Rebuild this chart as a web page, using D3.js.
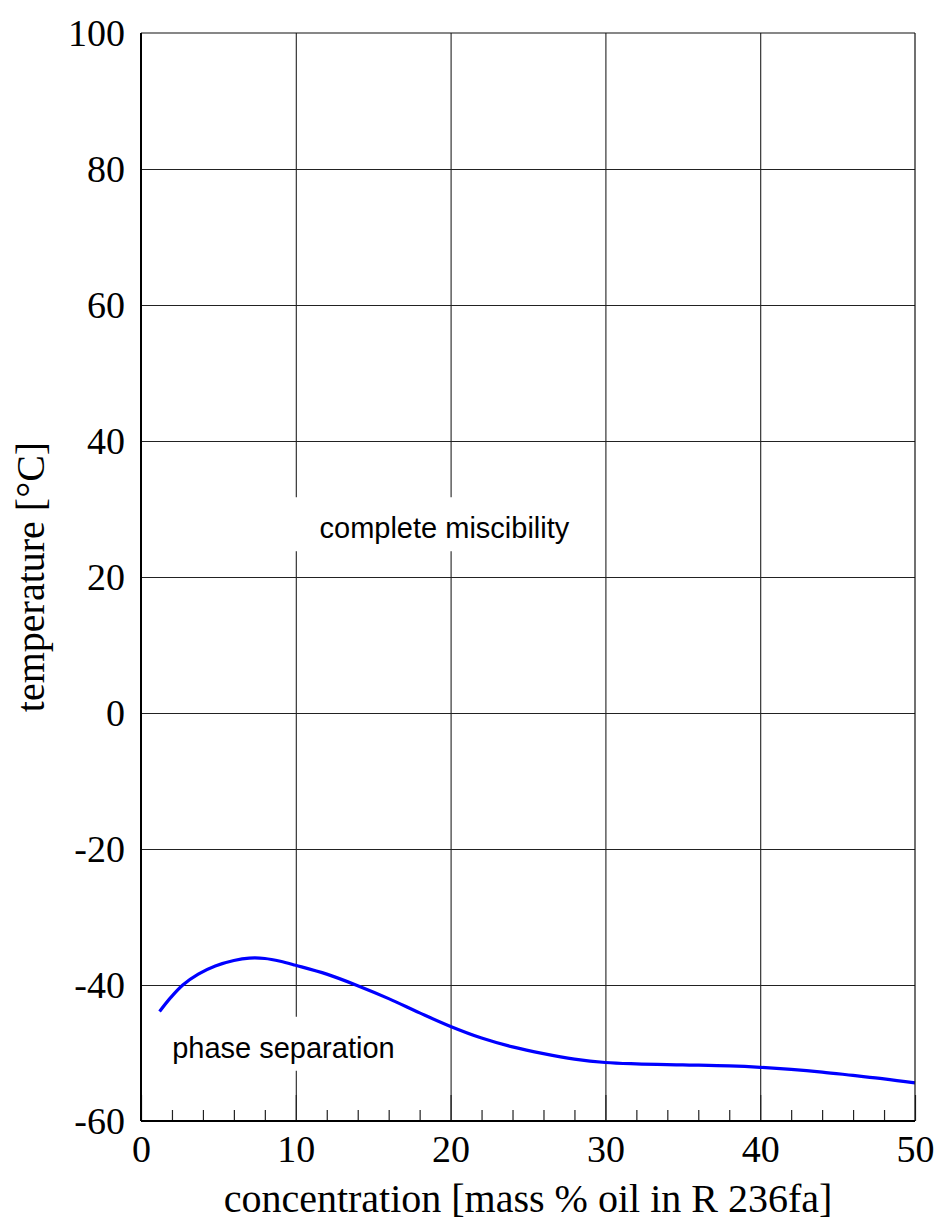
<!DOCTYPE html>
<html>
<head>
<meta charset="utf-8">
<script src="https://cdn.jsdelivr.net/npm/d3@7"></script>
<style>
  body { margin: 0; background: #fff; }
  svg { display: block; }
</style>
</head>
<body>
<div id="chart"></div>
<script>
// tick values
const xTicks = [0, 10, 20, 30, 40, 50];
const xMinorTicks = [2, 4, 6, 8, 12, 14, 16, 18, 22, 24, 26, 28, 32, 34, 36, 38, 42, 44, 46, 48];
const yTicks = [-60, -40, -20, 0, 20, 40, 60, 80, 100];

// miscibility curve
const concentration = [1.2, 1.9, 2.7, 3.7, 4.8, 6, 7, 8, 9, 10, 12, 14, 16, 18, 20, 22, 24, 26, 28, 30, 32, 35, 38, 40, 42, 44, 46, 48, 50];
const temperature = [-43.9, -41.9, -40.0, -38.4, -37.2, -36.4, -36.05, -36.1, -36.5, -37.1, -38.4, -40.1, -42.0, -44.1, -46.1, -47.8, -49.1, -50.1, -50.9, -51.4, -51.6, -51.75, -51.9, -52.1, -52.4, -52.8, -53.3, -53.8, -54.4];

// region labels
const regionLabels = ['complete miscibility', 'phase separation'];
const regionX = [19.6, 9.2];
const regionY = [25.7, -50.7];

const xTitle = 'concentration [mass % oil in R 236fa]';
const yTitle = 'temperature [\u00b0C]';

const width = 938, height = 1222;
const margin = {top: 33, right: 23, bottom: 101, left: 141};
const w = width - margin.left - margin.right;
const h = height - margin.top - margin.bottom;

const svg = d3.select('#chart').append('svg')
  .attr('width', width)
  .attr('height', height);

const g = svg.append('g')
  .attr('transform', `translate(${margin.left},${margin.top})`);

const x = d3.scaleLinear().domain([0, 50]).range([0, w]);
const y = d3.scaleLinear().domain([-60, 100]).range([h, 0]);

// gridlines
const xGrid = g.append('g')
  .attr('transform', `translate(0,${h})`)
  .call(d3.axisBottom(x).tickValues(xTicks.slice(1, -1)).tickSize(-h).tickFormat(''));
const yGrid = g.append('g')
  .call(d3.axisLeft(y).tickValues(yTicks.slice(1, -1)).tickSize(-w).tickFormat(''));
[xGrid, yGrid].forEach(s => {
  s.select('.domain').remove();
  s.selectAll('line').attr('stroke', '#222').attr('stroke-width', 1.1);
});

// label backgrounds break the gridlines
const labels = g.append('g');
regionLabels.forEach((txt, i) => {
  const t = labels.append('text')
    .attr('x', x(regionX[i]))
    .attr('y', y(regionY[i]))
    .attr('text-anchor', 'middle')
    .attr('font-family', '"Liberation Sans", Arial, sans-serif')
    .attr('font-size', 29)
    .attr('fill', '#000')
    .text(txt);
  const bb = t.node().getBBox();
  labels.insert('rect', 'text')
    .attr('x', bb.x - 26)
    .attr('y', bb.y - 15)
    .attr('width', bb.width + 52)
    .attr('height', bb.height + 22)
    .attr('fill', '#fff');
});

// curve
const pts = concentration.map((c, i) => [c, temperature[i]]);
g.append('path')
  .datum(pts)
  .attr('fill', 'none')
  .attr('stroke', '#0000ff')
  .attr('stroke-width', 3.2)
  .attr('d', d3.line().x(d => x(d[0])).y(d => y(d[1])).curve(d3.curveCatmullRom.alpha(0.5)));

// minor and major ticks on the bottom axis
const minor = g.append('g')
  .attr('transform', `translate(0,${h})`)
  .call(d3.axisBottom(x).tickValues(xMinorTicks).tickSize(-11).tickFormat(''));
const major = g.append('g')
  .attr('transform', `translate(0,${h})`)
  .call(d3.axisBottom(x).tickValues(xTicks).tickSize(-26).tickFormat(''));
[minor, major].forEach(s => {
  s.select('.domain').remove();
  s.selectAll('line').attr('stroke', '#222').attr('stroke-width', 1.2);
});

// frame
g.append('line').attr('x1', 0).attr('x2', w).attr('y1', 0).attr('y2', 0)
  .attr('stroke', '#111').attr('stroke-width', 1.2);
g.append('line').attr('x1', w).attr('x2', w).attr('y1', 0).attr('y2', h)
  .attr('stroke', '#111').attr('stroke-width', 1.2);
g.append('line').attr('x1', 0).attr('x2', 0).attr('y1', 0).attr('y2', h)
  .attr('stroke', '#000').attr('stroke-width', 2);
g.append('line').attr('x1', 0).attr('x2', w).attr('y1', h).attr('y2', h)
  .attr('stroke', '#000').attr('stroke-width', 2);

// tick labels, plain hyphen for negatives
const xLab = g.append('g')
  .attr('transform', `translate(0,${h})`)
  .call(d3.axisBottom(x).tickValues(xTicks).tickSize(0).tickPadding(14).tickFormat(d => String(d)));
const yLab = g.append('g')
  .call(d3.axisLeft(y).tickValues(yTicks).tickSize(0).tickPadding(16).tickFormat(d => String(d)));
[xLab, yLab].forEach(s => {
  s.select('.domain').remove();
  s.selectAll('text')
    .attr('font-family', '"Liberation Serif", "Times New Roman", serif')
    .attr('font-size', 38)
    .attr('fill', '#000');
});

// axis titles
svg.append('text')
  .attr('x', margin.left + w / 2)
  .attr('y', 1212)
  .attr('text-anchor', 'middle')
  .attr('font-family', '"Liberation Serif", "Times New Roman", serif')
  .attr('font-size', 40)
  .text(xTitle);

svg.append('text')
  .attr('transform', `translate(44,${margin.top + h / 2}) rotate(-90)`)
  .attr('text-anchor', 'middle')
  .attr('font-family', '"Liberation Serif", "Times New Roman", serif')
  .attr('font-size', 40)
  .text(yTitle);
</script>
</body>
</html>
